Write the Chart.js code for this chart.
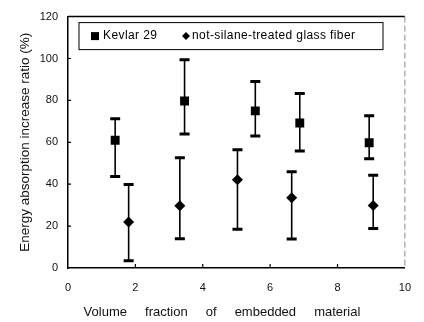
<!DOCTYPE html>
<html lang="en">
<head>
  <meta charset="UTF-8">
  <title>Energy absorption increase ratio</title>
  <script src="https://cdn.jsdelivr.net/npm/chart.js"></script>
  <style>
    body { margin: 0; background: #fff; }
    #wrap { width: 424px; height: 322px; }
  </style>
</head>
<body>
  <div id="wrap"><canvas id="chart"></canvas></div>

  <script>
    // Kevlar 29 (squares)
    const kevlarX = [1.4, 3.46, 5.56, 6.88, 8.94];
    const kevlarY = [61, 79.7, 75, 69.2, 59.8];
    const kevlarLow = [43.7, 64, 63, 55.8, 52.2];
    const kevlarHigh = [71.3, 99.4, 89, 83.3, 72.7];

    // not-silane-treated glass fiber (diamonds)
    const glassX = [1.8, 3.32, 5.03, 6.64, 9.06];
    const glassY = [22, 29.7, 42.1, 33.5, 29.8];
    const glassLow = [3.5, 14, 18.5, 13.9, 18.8];
    const glassHigh = [39.9, 52.6, 56.4, 45.9, 44.3];

    const xTicks = [0, 2, 4, 6, 8, 10];
    const yTicks = [0, 20, 40, 60, 80, 100, 120];
    const labels = ['Kevlar 29', 'not-silane-treated glass fiber'];

    const toPoints = (xs, ys) => xs.map((x, i) => ({x: x, y: ys[i]}));
    const font = "'Liberation Sans', Arial, sans-serif";

    // error bars, drawn through the scales
    const errorBars = {
      id: 'errorBars',
      beforeDatasetsDraw(chart) {
        const {ctx, scales: {x, y}} = chart;
        const sets = [[kevlarX, kevlarLow, kevlarHigh], [glassX, glassLow, glassHigh]];
        ctx.save();
        ctx.strokeStyle = '#000';
        sets.forEach(([xs, lo, hi]) => {
          xs.forEach((v, i) => {
            const px = x.getPixelForValue(v);
            const y1 = y.getPixelForValue(lo[i]);
            const y2 = y.getPixelForValue(hi[i]);
            ctx.lineWidth = 1.6;
            ctx.beginPath();
            ctx.moveTo(px, y1);
            ctx.lineTo(px, y2);
            ctx.stroke();
            ctx.lineWidth = 3;
            ctx.beginPath();
            ctx.moveTo(px - 5, y1); ctx.lineTo(px + 5, y1);
            ctx.moveTo(px - 5, y2); ctx.lineTo(px + 5, y2);
            ctx.stroke();
          });
        });
        ctx.restore();
      }
    };

    // frame, inner ticks and boxed legend
    const frame = {
      id: 'frame',
      afterDraw(chart) {
        const {ctx, chartArea: a, scales: {x, y}} = chart;
        ctx.save();
        ctx.strokeStyle = '#000';
        ctx.lineWidth = 1.5;
        ctx.beginPath();
        ctx.moveTo(a.left, a.top);
        ctx.lineTo(a.right, a.top);
        ctx.stroke();
        ctx.strokeStyle = '#888';
        ctx.lineWidth = 1;
        ctx.setLineDash([6, 3]);
        ctx.beginPath();
        ctx.moveTo(a.right, a.top);
        ctx.lineTo(a.right, a.bottom);
        ctx.stroke();
        ctx.setLineDash([]);

        ctx.strokeStyle = '#000';
        ctx.lineWidth = 1.2;
        ctx.beginPath();
        yTicks.slice(1, -1).forEach(v => {
          const py = y.getPixelForValue(v);
          ctx.moveTo(a.left, py); ctx.lineTo(a.left + 3, py);
        });
        xTicks.slice(1, -1).forEach(v => {
          const px = x.getPixelForValue(v);
          ctx.moveTo(px, a.bottom); ctx.lineTo(px, a.bottom - 4);
        });
        ctx.stroke();

        // legend box
        const bx = a.left + 11, by = a.top + 6, bw = 304, bh = 27;
        ctx.lineWidth = 1;
        ctx.strokeRect(bx, by, bw, bh);
        const cy = by + bh / 2;
        ctx.fillStyle = '#000';
        ctx.fillRect(bx + 12, cy - 4, 8, 8);
        ctx.beginPath();
        ctx.moveTo(bx + 107, cy - 4);
        ctx.lineTo(bx + 111, cy);
        ctx.lineTo(bx + 107, cy + 4);
        ctx.lineTo(bx + 103, cy);
        ctx.closePath();
        ctx.fill();
        ctx.font = '12px ' + font;
        ctx.textBaseline = 'middle';
        ctx.letterSpacing = '0.4px';
        ctx.fillText(labels[0], bx + 24, cy);
        ctx.fillText(labels[1], bx + 113, cy);
        ctx.restore();
      }
    };

    new Chart(document.getElementById('chart'), {
      type: 'scatter',
      data: {
        datasets: [
          {
            label: labels[0],
            data: toPoints(kevlarX, kevlarY),
            pointStyle: 'rect',
            pointRadius: 6.3,
            backgroundColor: '#000',
            borderColor: '#000',
            borderWidth: 0
          },
          {
            label: labels[1],
            data: toPoints(glassX, glassY),
            pointStyle: 'rectRot',
            pointRadius: 5.5,
            backgroundColor: '#000',
            borderColor: '#000',
            borderWidth: 0
          }
        ]
      },
      options: {
        responsive: true,
        maintainAspectRatio: false,
        animation: false,
        layout: { padding: { left: 0, right: 7, top: 11, bottom: 0 } },
        plugins: {
          legend: { display: false },
          tooltip: { enabled: false }
        },
        scales: {
          x: {
            type: 'linear',
            min: 0,
            max: 10,
            afterBuildTicks: s => { s.ticks = xTicks.map(v => ({value: v})); },
            afterFit: s => { s.height = 54; },
            grid: { display: false, drawTicks: false },
            border: { display: true, color: '#000', width: 1.5 },
            ticks: { padding: 13, color: '#111', font: { family: font, size: 11 } },
            title: {
              display: true,
              text: 'Volume     fraction     of     embedded     material' + ' '.repeat(8),
              color: '#111',
              padding: { top: 0, bottom: 2 },
              font: { family: font, size: 13 }
            }
          },
          y: {
            type: 'linear',
            min: 0,
            max: 120,
            afterBuildTicks: s => { s.ticks = yTicks.map(v => ({value: v})); },
            afterFit: s => { s.width = 68; },
            grid: { display: false, drawTicks: false },
            border: { display: true, color: '#000', width: 1.5 },
            ticks: { padding: 10, color: '#111', font: { family: font, size: 11 } },
            title: {
              display: true,
              text: 'Energy absorption increase ratio (%)',
              color: '#111',
              padding: { top: 17, bottom: 0 },
              font: { family: font, size: 13.5 }
            }
          }
        }
      },
      plugins: [errorBars, frame]
    });
  </script>
</body>
</html>
